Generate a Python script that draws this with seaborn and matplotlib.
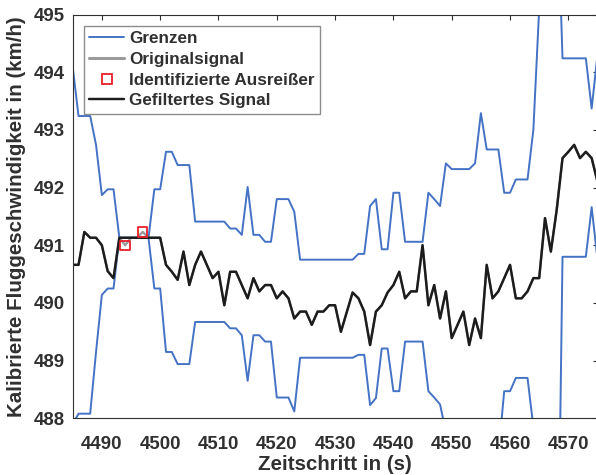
import numpy as np
import pandas as pd
import matplotlib
matplotlib.use("Agg")
import matplotlib.pyplot as plt
from matplotlib.lines import Line2D
import seaborn as sns

# Zeitachse (1 s Schritte)
zeitschritt = np.arange(4485, 4576)

obere_grenze = [
    494.09, 493.24, 493.24, 493.24, 492.74, 491.87, 491.97, 491.97, 491.13, 491.13,
    491.13, 491.13, 491.13, 491.13, 491.97, 491.97, 492.62, 492.62, 492.39, 492.39,
    492.39, 491.41, 491.41, 491.41, 491.41, 491.41, 491.41, 491.29, 491.29, 491.18,
    492.01, 491.18, 491.18, 491.06, 491.06, 491.80, 491.80, 491.80, 491.58, 490.75,
    490.75, 490.75, 490.75, 490.75, 490.75, 490.75, 490.75, 490.75, 490.75, 490.85,
    490.85, 491.68, 491.80, 490.93, 490.93, 491.91, 491.91, 491.06, 491.06, 491.06,
    491.06, 491.91, 491.80, 491.68, 492.42, 492.32, 492.32, 492.32, 492.32, 492.42,
    493.29, 492.66, 492.66, 492.66, 491.91, 491.91, 492.14, 492.14, 492.14, 493.00,
    495.10, 497.20, 497.60, 497.40, 494.24, 494.24, 494.24, 494.24, 494.24, 493.37,
    494.30,
]

untere_grenze = [
    487.90, 488.08, 488.08, 488.08, 489.15, 490.14, 490.25, 490.25, 491.13, 491.13,
    491.13, 491.13, 491.13, 491.13, 490.25, 490.25, 489.15, 489.15, 488.94, 488.94,
    488.94, 489.67, 489.67, 489.67, 489.67, 489.67, 489.67, 489.56, 489.56, 489.44,
    488.65, 489.44, 489.44, 489.33, 489.33, 488.36, 488.36, 488.36, 488.12, 489.05,
    489.05, 489.05, 489.05, 489.05, 489.05, 489.05, 489.05, 489.05, 489.05, 489.10,
    489.10, 488.23, 488.35, 489.21, 489.21, 488.47, 488.47, 489.33, 489.33, 489.33,
    489.33, 488.47, 488.36, 488.24, 487.76, 487.85, 487.85, 487.85, 487.85, 487.76,
    486.90, 487.37, 487.37, 487.37, 488.47, 488.47, 488.70, 488.70, 488.70, 487.85,
    485.80, 483.60, 483.20, 483.40, 490.80, 490.80, 490.80, 490.80, 490.80, 491.66,
    490.75,
]

gefiltertes_signal = [
    490.66, 490.66, 491.23, 491.13, 491.13, 491.00, 490.55, 490.43, 491.13, 491.13,
    491.13, 491.13, 491.13, 491.13, 491.13, 491.13, 490.66, 490.54, 490.40, 490.89,
    490.31, 490.66, 490.89, 490.66, 490.43, 490.54, 489.96, 490.54, 490.54, 490.31,
    490.08, 490.43, 490.20, 490.31, 490.31, 490.08, 490.20, 490.08, 489.73, 489.85,
    489.85, 489.62, 489.85, 489.85, 489.96, 489.96, 489.50, 489.84, 490.18, 490.08,
    489.85, 489.27, 489.85, 489.96, 490.18, 490.31, 490.54, 490.08, 490.20, 490.20,
    491.00, 489.96, 490.31, 489.73, 490.20, 489.39, 489.62, 489.85, 489.27, 489.73,
    489.39, 490.66, 490.08, 490.20, 490.43, 490.66, 490.08, 490.08, 490.20, 490.43,
    490.43, 491.47, 490.89, 491.61, 492.51, 492.62, 492.74, 492.51, 492.62, 492.51,
    492.10,
]

ausreisser_zeit = [4494, 4497]
ausreisser_wert = [491.00, 491.23]

x_ticks = [4490, 4500, 4510, 4520, 4530, 4540, 4550, 4560, 4570]
y_ticks = [488, 489, 490, 491, 492, 493, 494, 495]

# Originalsignal = gefiltertes Signal mit den ursprünglichen Werten an den Ausreißern
original = pd.Series(gefiltertes_signal, index=zeitschritt, dtype=float)
original.loc[ausreisser_zeit] = ausreisser_wert

df = pd.DataFrame({
    "zeit": zeitschritt,
    "oben": obere_grenze,
    "unten": untere_grenze,
    "original": original.values,
    "gefiltert": gefiltertes_signal,
})
df_aus = pd.DataFrame({"zeit": ausreisser_zeit, "wert": ausreisser_wert})

sns.set_theme(style="white")
plt.rcParams["font.family"] = ["Liberation Sans", "DejaVu Sans"]
plt.rcParams["font.weight"] = "bold"

TXT = "#303030"
BLAU = "#4472C4"
GRAU = "#9a9a9a"
ROT = "#e8202a"
SCHWARZ = "#1c1c1c"

W, H = 596, 475
fig = plt.figure(figsize=(W / 100, H / 100), dpi=100)
left, right = 72.7 / W, 597.5 / W
top, bottom = 1 - 14.5 / H, 1 - 418.3 / H
ax = fig.add_axes([left, bottom, right - left, top - bottom])

sns.lineplot(data=df, x="zeit", y="oben", ax=ax, color=BLAU, linewidth=1.4, legend=False)
sns.lineplot(data=df, x="zeit", y="unten", ax=ax, color=BLAU, linewidth=1.4, legend=False)
sns.lineplot(data=df, x="zeit", y="original", ax=ax, color=GRAU, linewidth=1.7, legend=False)
sns.lineplot(data=df, x="zeit", y="gefiltert", ax=ax, color=SCHWARZ, linewidth=1.75, legend=False)
sns.scatterplot(data=df_aus, x="zeit", y="wert", ax=ax, marker="s", s=46,
                facecolor="none", edgecolor=ROT, linewidth=1.3, legend=False, zorder=5)

ax.set_xlim(4485, 4575)
ax.set_ylim(488, 495)
ax.set_xticks(x_ticks)
ax.set_yticks(y_ticks)
ax.tick_params(axis="both", which="both", direction="in", length=3.8, width=0.8,
               colors=TXT, labelsize=13.4, top=True, right=True)
ax.tick_params(axis="x", pad=12.5)
ax.tick_params(axis="y", pad=5.5)
for lab in ax.get_xticklabels() + ax.get_yticklabels():
    lab.set_fontweight("bold")
for sp in ax.spines.values():
    sp.set_color(TXT)
    sp.set_linewidth(0.8)

ax.set_xlabel("Zeitschritt in (s)", fontsize=14.8, fontweight="bold", color=TXT, labelpad=2)
ax.set_ylabel("Kalibrierte Fluggeschwindigkeit in (km/h)", fontsize=14.8,
              fontweight="bold", color=TXT, labelpad=6)

handles = [
    Line2D([], [], color=BLAU, linewidth=1.4),
    Line2D([], [], color=GRAU, linewidth=2.2),
    Line2D([], [], color=ROT, marker="s", linestyle="none", markersize=6.8,
           markerfacecolor="none", markeredgewidth=1.3),
    Line2D([], [], color=SCHWARZ, linewidth=1.75),
]
labels = ["Grenzen", "Originalsignal", "Identifizierte Ausreißer", "Gefiltertes Signal"]
leg = ax.legend(handles, labels, loc="upper left",
                bbox_to_anchor=((84 - 72.7) / (597.5 - 72.7), 1 - (26 - 14.5) / (418.3 - 14.5)),
                borderaxespad=0, frameon=True, fancybox=False, framealpha=1,
                edgecolor="#8c8c8c", prop={"size": 12.3, "weight": "bold"},
                handlelength=2.05, handletextpad=0.25, labelspacing=0.33, borderpad=0.32)
leg.get_frame().set_linewidth(1.0)
for t in leg.get_texts():
    t.set_color(TXT)

fig.savefig("out.png", dpi=100)
